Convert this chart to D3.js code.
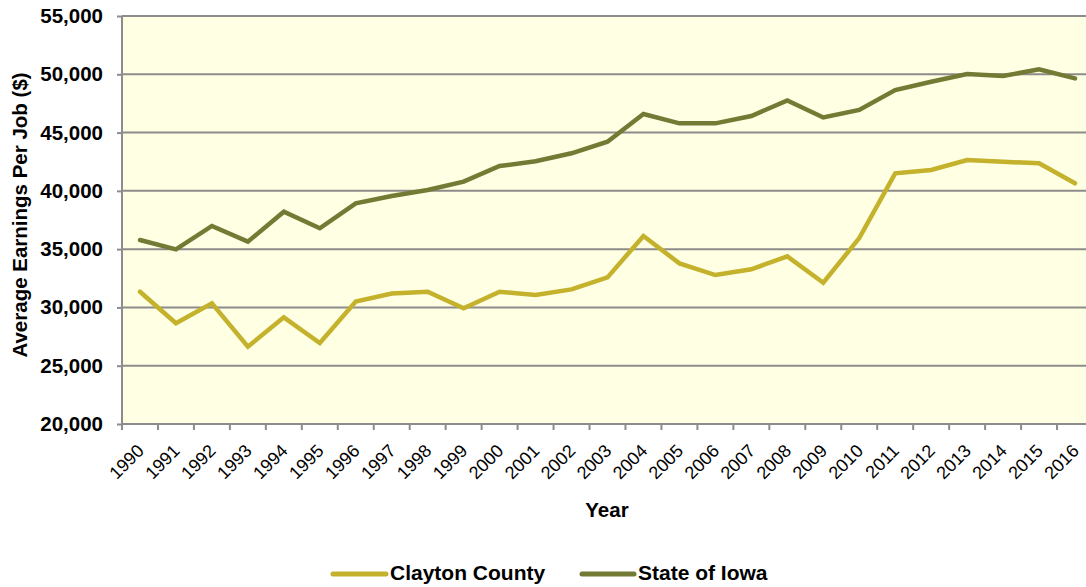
<!DOCTYPE html>
<html><head><meta charset="utf-8">
<script src="https://cdn.jsdelivr.net/npm/d3@7"></script>
<style>body{margin:0;background:#fff;} svg{display:block;font-family:"Liberation Sans",Arial,sans-serif;}</style>
</head><body>
<svg id="c" width="1086" height="587"></svg>
<script>
const years = ["1990","1991","1992","1993","1994","1995","1996","1997","1998","1999","2000","2001","2002","2003","2004","2005","2006","2007","2008","2009","2010","2011","2012","2013","2014","2015","2016"];
const clayton = [31350,28640,30350,26630,29150,26950,30500,31200,31350,29920,31350,31060,31550,32580,36130,33780,32780,33270,34380,32120,35950,41500,41790,42650,42500,42360,40650];
const iowa = [35780,34985,36990,35640,38210,36790,38930,39560,40070,40790,42130,42540,43220,44220,46590,45790,45790,46420,47760,46300,46940,48650,49360,50020,49850,50420,49650];
const yTicks = [20000,25000,30000,35000,40000,45000,50000,55000];
const seriesNames = ["Clayton County","State of Iowa"];
const colors = ["#C4B12C","#737A34"];

const svg = d3.select("#c");
const m = {left:122, top:16, right:1093, bottom:424};
const x = d3.scaleBand().domain(years).range([m.left, m.right]);
const y = d3.scaleLinear().domain([20000,55000]).range([m.bottom, m.top]);
const FS = 20.5;

svg.append("rect").attr("x",m.left).attr("y",m.top).attr("width",m.right-m.left).attr("height",m.bottom-m.top).attr("fill","#FFFFE3");

// gridlines
svg.append("g").selectAll("line").data(yTicks.slice(1)).join("line")
  .attr("x1",m.left).attr("x2",m.right).attr("y1",d=>y(d)).attr("y2",d=>y(d))
  .attr("stroke","#8C8C8C").attr("stroke-width",2);

// y axis
const ya = svg.append("g").attr("transform",`translate(${m.left},0)`)
  .call(d3.axisLeft(y).tickValues(yTicks).tickSize(5).tickPadding(14).tickFormat(d3.format(",")));
ya.select(".domain").attr("stroke","#8C8C8C").attr("stroke-width",2).attr("d",`M0,${m.top}V${m.bottom}`);
ya.selectAll(".tick line").attr("stroke","#8C8C8C").attr("stroke-width",2);
ya.selectAll(".tick text").attr("font-size",FS).attr("font-weight","bold").attr("fill","#000").attr("font-family","Liberation Sans, Arial, sans-serif");

// x axis
const xa = svg.append("g").attr("transform",`translate(0,${m.bottom})`)
  .call(d3.axisBottom(x).tickSize(0).tickFormat(d=>d));
xa.select(".domain").attr("stroke","#8C8C8C").attr("stroke-width",2).attr("d",`M${m.left},0H${m.right}`);
xa.append("g").selectAll("line").data(years).join("line")
  .attr("x1",d=>x(d)).attr("x2",d=>x(d)).attr("y1",0).attr("y2",6)
  .attr("stroke","#8C8C8C").attr("stroke-width",2);
xa.selectAll(".tick text")
  .attr("font-size",18).attr("fill","#000").attr("font-family","Liberation Sans, Arial, sans-serif")
  .attr("text-anchor","end").attr("y",0).attr("dy",0)
  .attr("transform","translate(5,28) rotate(-45)");

// lines
const line = d3.line().x((d,i)=>x(years[i])+x.bandwidth()/2).y(d=>y(d));
[clayton, iowa].forEach((s,k)=>{
  svg.append("path").datum(s).attr("d",line).attr("fill","none")
    .attr("stroke",colors[k]).attr("stroke-width",4.5).attr("stroke-linejoin","miter").attr("stroke-linecap","round");
});

// titles
svg.append("text").attr("transform","translate(27,215) rotate(-90)").attr("text-anchor","middle")
  .attr("font-size",FS).attr("font-weight","bold").text("Average Earnings Per Job ($)");
svg.append("text").attr("x",607).attr("y",517).attr("text-anchor","middle")
  .attr("font-size",FS).attr("font-weight","bold").text("Year");

// legend
const lg = [{x1:333,x2:386,tx:390},{x1:582,x2:634,tx:638}];
lg.forEach((l,k)=>{
  svg.append("line").attr("x1",l.x1).attr("x2",l.x2).attr("y1",574).attr("y2",574)
    .attr("stroke",colors[k]).attr("stroke-width",5).attr("stroke-linecap","round");
  svg.append("text").attr("x",l.tx).attr("y",580).attr("font-size",21).attr("font-weight","bold").text(seriesNames[k]);
});
</script>
</body></html>
